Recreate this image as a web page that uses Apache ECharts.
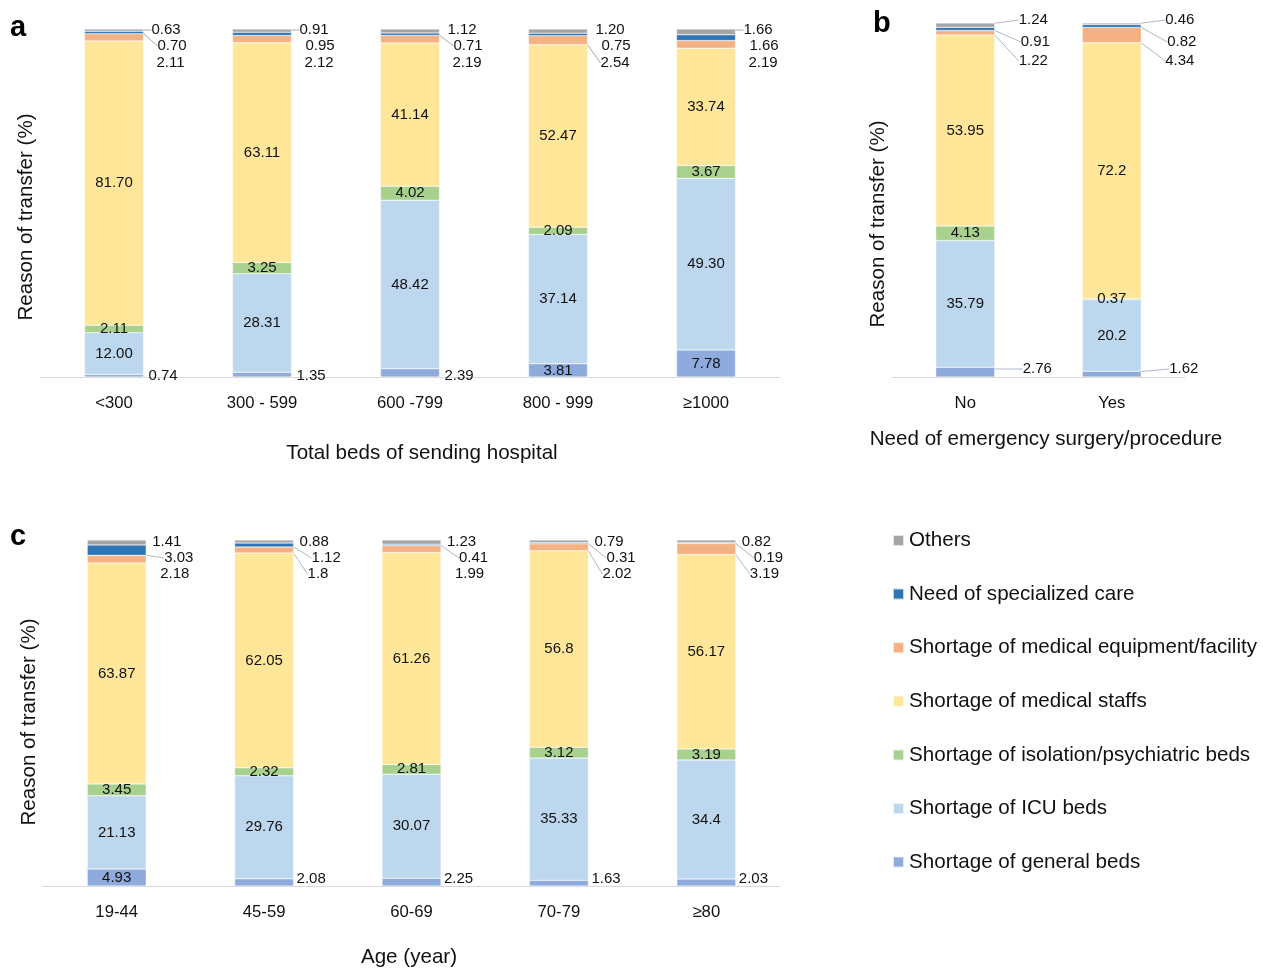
<!DOCTYPE html>
<html>
<head>
<meta charset="utf-8">
<title>Reason of transfer</title>
<script src="https://cdn.jsdelivr.net/npm/echarts@6.0.0/dist/echarts.min.js"></script>
<style>
  html, body { margin: 0; padding: 0; background: #ffffff; }
  #chart { width: 1263px; height: 970px; }
</style>
</head>
<body>
<div id="chart"></div>
<script>
// Reasons, stacked from the bottom of each bar to the top
const reasonNames = [
  'Shortage of general beds',
  'Shortage of ICU beds',
  'Shortage of isolation/psychiatric beds',
  'Shortage of medical staffs',
  'Shortage of medical equipment/facility',
  'Need of specialized care',
  'Others'
];

// Panel a: total beds of sending hospital
const bedCategories = ['<300', '300 - 599', '600 -799', '800 - 999', '≥1000'];
const bedGeneral     = [0.74, 1.35, 2.39, 3.81, 7.78];
const bedICU         = [12.00, 28.31, 48.42, 37.14, 49.30];
const bedIsolation   = [2.11, 3.25, 4.02, 2.09, 3.67];
const bedStaff       = [81.70, 63.11, 41.14, 52.47, 33.74];
const bedEquipment   = [2.11, 2.12, 2.19, 2.54, 2.19];
const bedSpecialized = [0.70, 0.95, 0.71, 0.75, 1.66];
const bedOthers      = [0.63, 0.91, 1.12, 1.20, 1.66];

// Panel b: need of emergency surgery/procedure
const surgeryCategories  = ['No', 'Yes'];
const surgeryGeneral     = [2.76, 1.62];
const surgeryICU         = [35.79, 20.2];
const surgeryIsolation   = [4.13, 0.37];
const surgeryStaff       = [53.95, 72.2];
const surgeryEquipment   = [1.22, 4.34];
const surgerySpecialized = [0.91, 0.82];
const surgeryOthers      = [1.24, 0.46];

// Panel c: age group
const ageCategories  = ['19-44', '45-59', '60-69', '70-79', '≥80'];
const ageGeneral     = [4.93, 2.08, 2.25, 1.63, 2.03];
const ageICU         = [21.13, 29.76, 30.07, 35.33, 34.4];
const ageIsolation   = [3.45, 2.32, 2.81, 3.12, 3.19];
const ageStaff       = [63.87, 62.05, 61.26, 56.8, 56.17];
const ageEquipment   = [2.18, 1.8, 1.99, 2.02, 3.19];
const ageSpecialized = [3.03, 1.12, 0.41, 0.31, 0.19];
const ageOthers      = [1.41, 0.88, 1.23, 0.79, 0.82];

// Legend order (top to bottom)
const legendOrder = reasonNames.slice().reverse();

// ---- styling ----
const FONT = '"Liberation Sans", Arial, Helvetica, sans-serif';
const reasonColors = ['#8faadc', '#bdd7ee', '#a9d18e', '#ffe699', '#f4b183', '#2e75b6', '#a5a5a5'];
const TITLE_SIZE = 20.6;
const TICK_SIZE = 16.7;
const VALUE_SIZE = 15;

// Which small outside labels get a guide line, keyed by stack position
const guideA = { 0: [0,0,0,0,0], 4: [0,0,0,1,0], 5: [1,0,1,0,0], 6: [1,1,0,0,1] };
const guideB = { 0: [1,1], 4: [1,1], 5: [1,1], 6: [1,1] };
const guideC = { 0: [0,0,0,0,0], 4: [0,1,0,1,1], 5: [1,1,1,1,1], 6: [0,0,0,0,0] };

const panels = [
  {
    categories: bedCategories,
    values: [bedGeneral, bedICU, bedIsolation, bedStaff, bedEquipment, bedSpecialized, bedOthers],
    grid: { left: 40, top: 29, width: 740, height: 348 },
    fmt: v => v.toFixed(2),
    xName: 'Total beds of sending hospital', xNameGap: 66, xNamePad: [0, 0, 0, 24],
    yNamePad: [0, 28, 0, 0],
    rowDx: [8, 14, 13], rowDy: [1, 17, 34],
    baseDx: 5, baseDy: -1,
    guides: guideA, guideColor: '#a6a6a6'
  },
  {
    categories: surgeryCategories,
    values: [surgeryGeneral, surgeryICU, surgeryIsolation, surgeryStaff, surgeryEquipment, surgerySpecialized, surgeryOthers],
    grid: { left: 892, top: 23, width: 293, height: 354 },
    fmt: v => String(v),
    xName: 'Need of emergency surgery/procedure', xNameGap: 52, xNamePad: [0, 0, 0, 15],
    yNamePad: [0, 48, 0, 0],
    rowDx: [24, 26, 24], rowDy: [-3, 19, 38],
    baseDx: 28, baseDy: -8,
    guides: guideB, guideColor: '#adb9ca'
  },
  {
    categories: ageCategories,
    values: [ageGeneral, ageICU, ageIsolation, ageStaff, ageEquipment, ageSpecialized, ageOthers],
    grid: { left: 43, top: 540, width: 737, height: 346 },
    fmt: v => String(v),
    xName: 'Age (year)', xNameGap: 61, xNamePad: [0, 5, 0, 0],
    yNamePad: [0, 18, 0, 0],
    rowDx: [6, 18, 14], rowDy: [2, 18, 34],
    baseDx: 3, baseDy: -7,
    guides: guideC, guideColor: '#adb9ca'
  }
];

const grids = [], xAxes = [], yAxes = [], series = [];

panels.forEach((p, g) => {
  grids.push(Object.assign({ containLabel: false }, p.grid));

  xAxes.push({
    type: 'category', gridIndex: g, data: p.categories,
    axisLine: { show: true, lineStyle: { color: '#d9d9d9', width: 1 } },
    axisTick: { show: false },
    axisLabel: { margin: 18, fontSize: TICK_SIZE, color: '#111', fontFamily: FONT },
    name: p.xName, nameLocation: 'middle', nameGap: p.xNameGap,
    nameTextStyle: { fontSize: TITLE_SIZE, color: '#111', fontFamily: FONT, padding: p.xNamePad }
  });

  yAxes.push({
    type: 'value', gridIndex: g, min: 0, max: 100,
    axisLine: { show: false }, axisTick: { show: false },
    axisLabel: { show: false }, splitLine: { show: false },
    name: 'Reason of transfer (%)', nameLocation: 'middle', nameRotate: 90, nameGap: 3,
    nameTextStyle: { fontSize: TITLE_SIZE, color: '#111', fontFamily: FONT, padding: p.yNamePad }
  });

  const baseline = p.grid.top + p.grid.height;

  p.values.forEach((vals, k) => {
    const flags = p.guides[k];
    const s = {
      type: 'bar', name: reasonNames[k], stack: 'total' + g,
      xAxisIndex: g, yAxisIndex: g, barWidth: 59,
      itemStyle: { color: reasonColors[k], borderColor: 'rgba(255,255,255,0.7)', borderWidth: 0.5 },
      emphasis: { disabled: true },
      label: {
        show: true, position: 'inside', fontSize: VALUE_SIZE, color: '#111', fontFamily: FONT,
        formatter: prm => p.fmt(prm.value)
      },
      labelLine: { show: false, lineStyle: { color: p.guideColor, width: 1 } },
      data: vals.map((v, i) => ({
        value: v,
        labelLine: { show: !!(flags && flags[i]) }
      }))
    };

    if (k >= 4) {
      // small top segments: labels stacked at the right of the bar top
      const row = 6 - k;
      s.labelLayout = prm => ({
        x: prm.rect.x + prm.rect.width + p.rowDx[row],
        y: p.grid.top + p.rowDy[row],
        align: 'left', verticalAlign: 'middle'
      });
    } else if (k === 0) {
      // thin bottom segments: label to the right of the bar foot
      s.labelLayout = prm => {
        if (vals[prm.dataIndex] >= 3) return {};
        return {
          x: prm.rect.x + prm.rect.width + p.baseDx,
          y: baseline + p.baseDy,
          align: 'left', verticalAlign: 'middle'
        };
      };
    }
    series.push(s);
  });
});

const chart = echarts.init(document.getElementById('chart'), null, { renderer: 'canvas' });
chart.setOption({
  animation: false,
  backgroundColor: '#ffffff',
  textStyle: { fontFamily: FONT },
  grid: grids,
  xAxis: xAxes,
  yAxis: yAxes,
  legend: {
    orient: 'vertical', left: 892, top: 530, padding: 0,
    itemWidth: 11, itemHeight: 11, itemGap: 32.6,
    icon: 'rect', selectedMode: false,
    data: legendOrder,
    textStyle: { fontSize: TITLE_SIZE, color: '#111', fontFamily: FONT, lineHeight: 20 }
  },
  graphic: [
    { type: 'text', left: 10, top: 13, style: { text: 'a', font: 'bold 29px ' + FONT, fill: '#000' } },
    { type: 'text', left: 873, top: 9, style: { text: 'b', font: 'bold 29px ' + FONT, fill: '#000' } },
    { type: 'text', left: 10, top: 522, style: { text: 'c', font: 'bold 29px ' + FONT, fill: '#000' } }
  ],
  series: series
});
</script>
</body>
</html>
